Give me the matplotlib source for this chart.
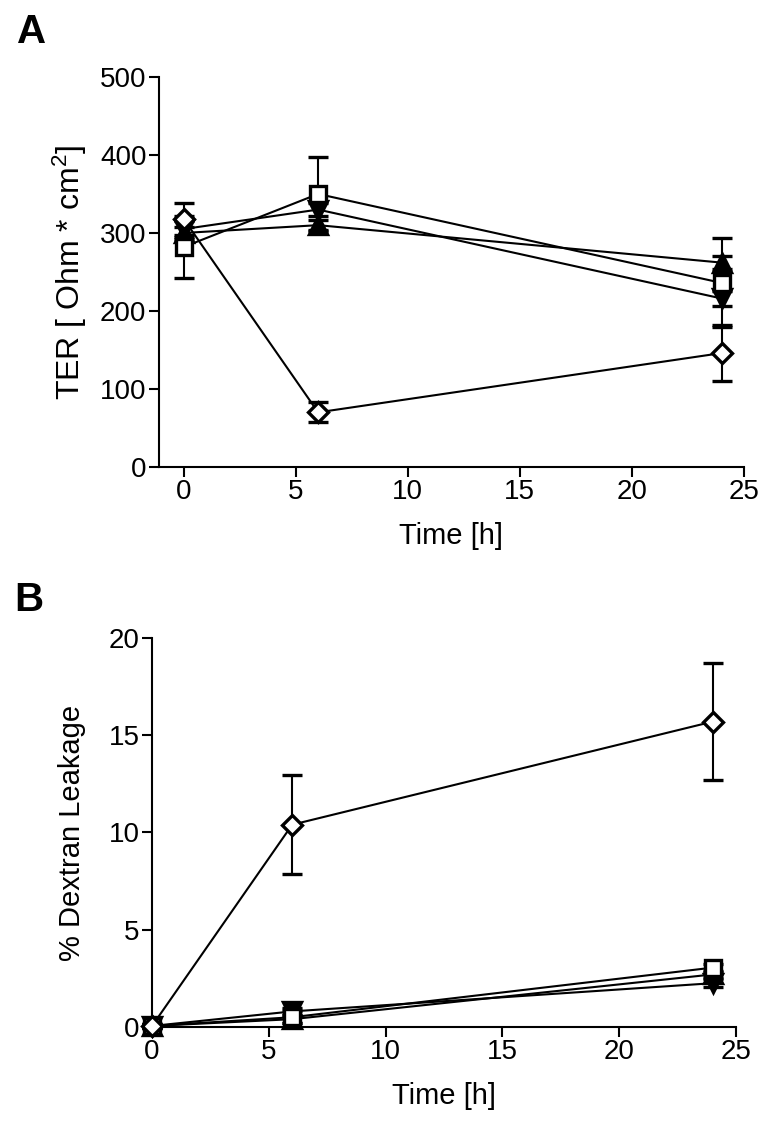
import matplotlib
matplotlib.use("Agg")

import matplotlib.pyplot as plt

plt.rcParams["font.family"] = ["Liberation Sans", "DejaVu Sans"]
plt.rcParams["mathtext.fontset"] = "custom"
plt.rcParams["mathtext.rm"] = "Liberation Sans"
plt.rcParams["mathtext.it"] = "Liberation Sans"

# time points (h)
time_h = [0, 6, 24]

# panel A: TER [Ohm * cm^2], mean and SEM
ter_square = [282, 350, 236]
ter_square_err = [40, 48, 57]
ter_up = [300, 310, 262]
ter_up_err = [8, 6, 8]
ter_down = [305, 330, 216]
ter_down_err = [10, 8, 10]
ter_diamond = [318, 70, 146]
ter_diamond_err = [21, 13, 36]

# panel B: % dextran leakage, mean and SEM
dex_square = [0.05, 0.5, 3.05]
dex_square_err = [0.1, 0.3, 0.2]
dex_up = [0.05, 0.4, 2.7]
dex_up_err = [0.1, 0.2, 0.2]
dex_down = [0.05, 0.8, 2.25]
dex_down_err = [0.1, 0.2, 0.2]
dex_diamond = [0.05, 10.4, 15.7]
dex_diamond_err = [0.1, 2.55, 3.0]

TICK_FS = 20
LABEL_FS = 21


def draw_series(ax, y, err, marker, ms, filled):
    ax.errorbar(
        time_h, y, yerr=err,
        color="black", lw=1.5, elinewidth=1.5, capsize=7, capthick=1.5,
        marker=marker, ms=ms, mew=2.4,
        mfc="black" if filled else "white", mec="black",
        clip_on=False, zorder=3,
    )


def style_axes(ax):
    for side in ("top", "right"):
        ax.spines[side].set_visible(False)
    for side in ("left", "bottom"):
        ax.spines[side].set_linewidth(1.5)
    ax.tick_params(width=1.5, length=7, labelsize=TICK_FS, pad=2)
    ax.set_xticks([0, 5, 10, 15, 20, 25])


fig = plt.figure(figsize=(7.64, 11.32), dpi=100)

# panel A
ax_a = fig.add_axes([0.2081, 0.5875, 0.7657, 0.3445])
draw_series(ax_a, ter_up, ter_up_err, "^", 13, True)
draw_series(ax_a, ter_down, ter_down_err, "v", 13, True)
draw_series(ax_a, ter_square, ter_square_err, "s", 11.5, False)
draw_series(ax_a, ter_diamond, ter_diamond_err, "D", 10, False)
ax_a.set_xlim(-1.1, 25)
ax_a.set_ylim(0, 500)
ax_a.set_yticks([0, 100, 200, 300, 400, 500])
style_axes(ax_a)
ax_a.set_xlabel("Time [h]", fontsize=LABEL_FS, labelpad=12)
ax_a.set_ylabel("TER [ Ohm * cm$^{2}$]", fontsize=23, labelpad=8)
fig.text(0.022, 0.972, "A", fontsize=29, fontweight="bold", va="center")

# panel B
ax_b = fig.add_axes([0.1990, 0.0928, 0.7644, 0.3436])
draw_series(ax_b, dex_up, dex_up_err, "^", 13, True)
draw_series(ax_b, dex_down, dex_down_err, "v", 13, True)
draw_series(ax_b, dex_square, dex_square_err, "s", 11.5, False)
draw_series(ax_b, dex_diamond, dex_diamond_err, "D", 10, False)
ax_b.set_xlim(0, 25)
ax_b.set_ylim(0, 20)
ax_b.set_yticks([0, 5, 10, 15, 20])
style_axes(ax_b)
ax_b.set_xlabel("Time [h]", fontsize=LABEL_FS, labelpad=12)
ax_b.set_ylabel("% Dextran Leakage", fontsize=LABEL_FS, labelpad=16)
fig.text(0.019, 0.47, "B", fontsize=29, fontweight="bold", va="center")

fig.savefig("out.png", dpi=100)
plt.close(fig)
